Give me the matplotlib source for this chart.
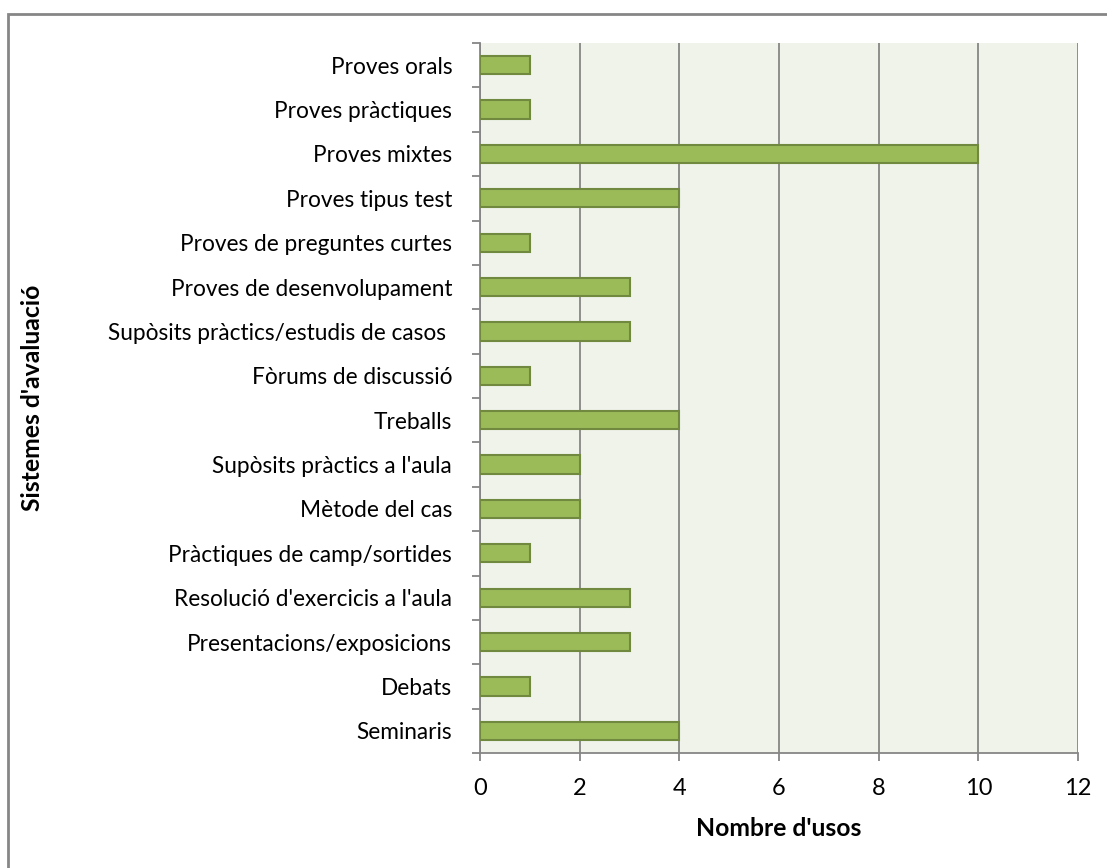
import matplotlib
matplotlib.use("Agg")
import matplotlib.pyplot as plt
from matplotlib.patches import Rectangle

plt.rcParams['font.family'] = ['Lato', 'DejaVu Sans']

categories = ["Seminaris", "Debats", "Presentacions/exposicions",
              "Resolució d'exercicis a l'aula", "Pràctiques de camp/sortides",
              "Mètode del cas", "Supòsits pràctics a l'aula", "Treballs",
              "Fòrums de discussió", "Supòsits pràctics/estudis de casos ",
              "Proves de desenvolupament", "Proves de preguntes curtes",
              "Proves tipus test", "Proves mixtes", "Proves pràctiques",
              "Proves orals"]
values = [4, 1, 3, 3, 1, 2, 2, 4, 1, 3, 3, 1, 4, 10, 1, 1]
xticks = [0, 2, 4, 6, 8, 10, 12]

fig = plt.figure(figsize=(11.07, 8.68), dpi=100)
fig.patches.append(Rectangle((8 / 1107, -20 / 868), 1200 / 1107, 874 / 868,
                             transform=fig.transFigure, fill=False,
                             edgecolor='#868686', linewidth=2))
ax = fig.add_axes([480 / 1107, 1 - 753 / 868, 598 / 1107, 710 / 868])
ax.set_facecolor('#EFF3EA')

# size the font so the longest label is as wide as in the original (~340 px)
r = fig.canvas.get_renderer()
t = fig.text(0, 0, "Supòsits pràctics/estudis de casos", fontsize=14)
w = t.get_window_extent(renderer=r).width
t.remove()
fs = 14 * 340 / w

pos = list(range(len(categories)))
ax.barh(pos, values, height=0.41, color='#9BBB59', edgecolor='#71893F',
        linewidth=1.5, zorder=3)

ax.set_xlim(0, 12)
ax.set_ylim(-0.5, len(categories) - 0.5)
ax.set_xticks(xticks)
ax.set_xticklabels([str(t) for t in xticks], fontsize=fs * 1.04)
ax.set_yticks(pos)
ax.set_yticklabels(categories, fontsize=fs)
ax.set_yticks([p - 0.5 for p in pos] + [len(categories) - 0.5], minor=True)
ax.tick_params(axis='y', which='major', length=0, pad=20)
ax.tick_params(axis='y', which='minor', length=6, color='#868686', width=1.3)
ax.tick_params(axis='x', length=6, color='#868686', width=1.3, pad=12)

ax.grid(axis='x', color='#868686', linewidth=1.3, zorder=1)
for s in ['top', 'right']:
    ax.spines[s].set_visible(False)
for s in ['left', 'bottom']:
    ax.spines[s].set_color('#868686')
    ax.spines[s].set_linewidth(1.3)

ax.set_xlabel("Nombre d'usos", fontsize=fs * 1.09, fontweight='bold')
ax.xaxis.set_label_coords(0.5, -(829 - 753) / 710)
ax.xaxis.label.set_va('center')
ax.set_ylabel("Sistemes d'avaluació", fontsize=fs * 1.09, fontweight='bold')
ax.yaxis.set_label_coords(-(480 - 32) / 598, 0.5)
ax.yaxis.label.set_va('center')

fig.savefig('out.png', dpi=100)
